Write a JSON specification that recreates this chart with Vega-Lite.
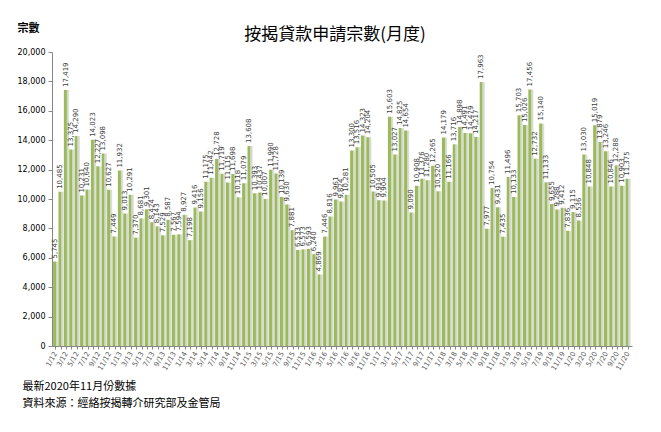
{
  "$schema": "https://vega.github.io/schema/vega-lite/v6.json",
  "autosize": "none",
  "width": 580,
  "height": 294,
  "padding": {"left": 52, "top": 52, "right": 29, "bottom": 86},
  "background": "white",
  "title": {
    "text": "按揭貸款申請宗數(月度)",
    "font": "Noto Sans CJK TC",
    "fontSize": 17,
    "fontWeight": "normal",
    "color": "black",
    "anchor": "middle",
    "frame": "group",
    "dx": -7,
    "dy": 26
  },
  "config": {
    "view": {"stroke": null},
    "font": "DejaVu Sans"
  },
  "data": {
    "values": [
      {"m": "1/12", "v": 5745}, {"m": "2/12", "v": 10485}, {"m": "3/12", "v": 17419}, {"m": "4/12", "v": 13375},
      {"m": "5/12", "v": 14290}, {"m": "6/12", "v": 10231}, {"m": "7/12", "v": 10640}, {"m": "8/12", "v": 14023},
      {"m": "9/12", "v": 12227}, {"m": "10/12", "v": 13098}, {"m": "11/12", "v": 10627}, {"m": "12/12", "v": 7449},
      {"m": "1/13", "v": 11932}, {"m": "2/13", "v": 9013}, {"m": "3/13", "v": 10291}, {"m": "4/13", "v": 7370},
      {"m": "5/13", "v": 8681}, {"m": "6/13", "v": 9301}, {"m": "7/13", "v": 8424}, {"m": "8/13", "v": 8143},
      {"m": "9/13", "v": 7529}, {"m": "10/13", "v": 8587}, {"m": "11/13", "v": 7567}, {"m": "12/13", "v": 7594},
      {"m": "1/14", "v": 8927}, {"m": "2/14", "v": 7198}, {"m": "3/14", "v": 9416}, {"m": "4/14", "v": 9156},
      {"m": "5/14", "v": 11175}, {"m": "6/14", "v": 11442}, {"m": "7/14", "v": 12728}, {"m": "8/14", "v": 11719},
      {"m": "9/14", "v": 11115}, {"m": "10/14", "v": 11698}, {"m": "11/14", "v": 10118}, {"m": "12/14", "v": 11079},
      {"m": "1/15", "v": 13608}, {"m": "2/15", "v": 10393}, {"m": "3/15", "v": 10437}, {"m": "4/15", "v": 10007},
      {"m": "5/15", "v": 11990}, {"m": "6/15", "v": 11728}, {"m": "7/15", "v": 10139}, {"m": "8/15", "v": 9630},
      {"m": "9/15", "v": 7881}, {"m": "10/15", "v": 6533}, {"m": "11/15", "v": 6573}, {"m": "12/15", "v": 6593},
      {"m": "1/16", "v": 6240}, {"m": "2/16", "v": 4869}, {"m": "3/16", "v": 7446}, {"m": "4/16", "v": 8816},
      {"m": "5/16", "v": 9961}, {"m": "6/16", "v": 9824}, {"m": "7/16", "v": 10281}, {"m": "8/16", "v": 13300},
      {"m": "9/16", "v": 13516}, {"m": "10/16", "v": 14323}, {"m": "11/16", "v": 14204}, {"m": "12/16", "v": 10505},
      {"m": "1/17", "v": 9914}, {"m": "2/17", "v": 9904}, {"m": "3/17", "v": 15603}, {"m": "4/17", "v": 13027},
      {"m": "5/17", "v": 14825}, {"m": "6/17", "v": 14654}, {"m": "7/17", "v": 9090}, {"m": "8/17", "v": 10908},
      {"m": "9/17", "v": 11376}, {"m": "10/17", "v": 11280}, {"m": "11/17", "v": 12265}, {"m": "12/17", "v": 10520},
      {"m": "1/18", "v": 14179}, {"m": "2/18", "v": 11166}, {"m": "3/18", "v": 13716}, {"m": "4/18", "v": 14898},
      {"m": "5/18", "v": 14491}, {"m": "6/18", "v": 14479}, {"m": "7/18", "v": 14217}, {"m": "8/18", "v": 17963},
      {"m": "9/18", "v": 7977}, {"m": "10/18", "v": 10754}, {"m": "11/18", "v": 9431}, {"m": "12/18", "v": 7435},
      {"m": "1/19", "v": 11496}, {"m": "2/19", "v": 10133}, {"m": "3/19", "v": 15703}, {"m": "4/19", "v": 15026},
      {"m": "5/19", "v": 17456}, {"m": "6/19", "v": 12732}, {"m": "7/19", "v": 15140}, {"m": "8/19", "v": 11133},
      {"m": "9/19", "v": 9655}, {"m": "10/19", "v": 9288}, {"m": "11/19", "v": 9412}, {"m": "12/19", "v": 7836},
      {"m": "1/20", "v": 9115}, {"m": "2/20", "v": 8536}, {"m": "3/20", "v": 13030}, {"m": "4/20", "v": 10848},
      {"m": "5/20", "v": 15019}, {"m": "6/20", "v": 13879}, {"m": "7/20", "v": 13246}, {"m": "8/20", "v": 10846},
      {"m": "9/20", "v": 12288}, {"m": "10/20", "v": 10903}, {"m": "11/20", "v": 11375}
    ]
  },
  "encoding": {
    "x": {
      "field": "m",
      "type": "ordinal",
      "sort": null,
      "scale": {"paddingInner": 0, "paddingOuter": 0.2},
      "axis": {
        "labelExpr": "parseInt(split(datum.label, '/')[0]) % 2 == 1 ? datum.label : ''",
        "labelAngle": -60,
        "labelFontSize": 7,
        "labelColor": "#595959",
        "labelPadding": 3,
        "domainColor": "#868686",
        "tickColor": "#868686",
        "tickSize": 3,
        "grid": false,
        "title": ["最新2020年11月份數據", "資料來源：經絡按揭轉介研究部及金管局"],
        "titleFont": "Noto Sans CJK TC",
        "titleFontSize": 11,
        "titleFontWeight": "normal",
        "titleColor": "black",
        "titleAnchor": "start",
        "titleAlign": "left",
        "titleBaseline": "top",
        "titleLineHeight": 17,
        "titleX": -30,
        "titleY": 34
      }
    },
    "y": {
      "field": "v",
      "type": "quantitative",
      "scale": {"domain": [0, 20000], "nice": false},
      "axis": {
        "values": [0, 2000, 4000, 6000, 8000, 10000, 12000, 14000, 16000, 18000, 20000],
        "format": ",d",
        "grid": false,
        "labelFontSize": 8,
        "labelColor": "black",
        "labelPadding": 3,
        "domainColor": "#868686",
        "tickColor": "#868686",
        "tickSize": 4,
        "title": "宗數",
        "titleFont": "Noto Sans CJK TC",
        "titleFontSize": 11,
        "titleFontWeight": "bold",
        "titleColor": "black",
        "titleAngle": 0,
        "titleAlign": "left",
        "titleBaseline": "alphabetic",
        "titleX": -35,
        "titleY": -21
      }
    }
  },
  "layer": [
    {
      "mark": {
        "type": "bar",
        "color": {
          "gradient": "linear",
          "x1": 0, "x2": 1, "y1": 0, "y2": 0,
          "stops": [
            {"offset": 0, "color": "#9bbb59"},
            {"offset": 0.48, "color": "#9bbb59"},
            {"offset": 0.5, "color": "#c9cfc0"},
            {"offset": 0.85, "color": "#dcdfd8"},
            {"offset": 1, "color": "#f0f0f0"}
          ]
        }
      }
    },
    {
      "mark": {
        "type": "text",
        "angle": 270,
        "align": "left",
        "baseline": "middle",
        "dx": 3,
        "dy": -1,
        "fontSize": 7,
        "color": "#404040"
      },
      "encoding": {
        "text": {"field": "v", "type": "quantitative", "format": ",d"}
      }
    }
  ]
}
